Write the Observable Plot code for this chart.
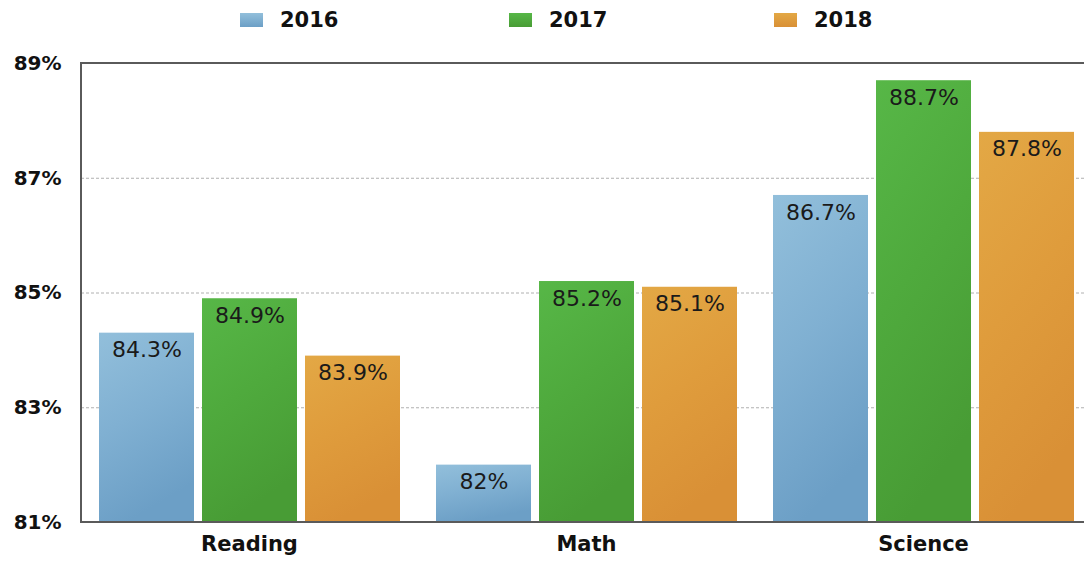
<!DOCTYPE html>
<html><head><meta charset="utf-8">
<script src="https://cdn.jsdelivr.net/npm/d3@7"></script>
<script src="https://cdn.jsdelivr.net/npm/@observablehq/plot@0.6"></script>
<style>
body{margin:0;background:#fff;width:1084px;overflow:hidden}
#legend{position:relative;height:40px;font-family:"DejaVu Sans",sans-serif;font-weight:bold;font-size:21px;color:#111}
.item{position:absolute;top:0;height:40px;display:flex;align-items:center}
.sw{width:23px;height:14px;margin-right:17px}
#chart{position:relative;width:1084px;height:521px;overflow:hidden}
#chart svg{position:absolute;left:0;top:0}
</style></head><body>
<svg width="0" height="0" style="position:absolute">
  <defs>
    <linearGradient id="g2016" x1="0" y1="0" x2="0.3" y2="1">
      <stop offset="0" stop-color="#92bfdb"/><stop offset="0.5" stop-color="#80b0d2"/><stop offset="1" stop-color="#6c9fc6"/>
    </linearGradient>
    <linearGradient id="g2017" x1="0" y1="0" x2="0.3" y2="1">
      <stop offset="0" stop-color="#57b747"/><stop offset="0.5" stop-color="#4faa3d"/><stop offset="1" stop-color="#489c35"/>
    </linearGradient>
    <linearGradient id="g2018" x1="0" y1="0" x2="0.3" y2="1">
      <stop offset="0" stop-color="#e3a845"/><stop offset="0.5" stop-color="#df9c3c"/><stop offset="1" stop-color="#d99036"/>
    </linearGradient>
  </defs>
</svg>
<div id="legend"></div>
<div id="chart"></div>
<script>
const subjects = ["Reading", "Math", "Science"];
const years = ["2016", "2017", "2018"];
const values2016 = [84.3, 82, 86.7];
const values2017 = [84.9, 85.2, 88.7];
const values2018 = [83.9, 85.1, 87.8];
const yDomain = [81, 89];
const yTicks = [81, 83, 85, 87, 89];
const gridValues = [83, 85, 87];
const barFills = ["url(#g2016)", "url(#g2017)", "url(#g2018)"];
const swatchColors = ["linear-gradient(#92bfdb,#6c9fc6)", "linear-gradient(#57b747,#489c35)", "linear-gradient(#e3a845,#d99036)"];
const legendLeft = [240, 509, 774];

const series = [values2016, values2017, values2018];
const data = [];
subjects.forEach((s, i) => years.forEach((y, j) => data.push({subject: s, year: y, value: series[j][i]})));

const legend = document.getElementById("legend");
years.forEach((y, j) => {
  const it = document.createElement("div");
  it.className = "item";
  it.style.left = legendLeft[j] + "px";
  it.innerHTML = `<span class="sw" style="background:${swatchColors[j]}"></span><span>${y}</span>`;
  legend.appendChild(it);
});

const common = {
  width: 1084, height: 521,
  marginTop: 23, marginBottom: 39, marginLeft: 81, marginRight: -7,
  style: {background: "transparent", overflow: "visible"},
  y: {domain: yDomain}
};

// background layer: dashed grid lines across the whole frame
const grid = Plot.plot({
  ...common,
  x: {axis: null},
  marks: [
    Plot.ruleY(gridValues, {stroke: "#b0b0b0", strokeWidth: 1, strokeDasharray: "3,2"}),
    Plot.axisY({ticks: [], label: null})
  ]
});

// bars layer
const bars = Plot.plot({
  ...common,
  fx: {domain: subjects, paddingInner: 0.104, paddingOuter: 0.05},
  x: {domain: years, paddingInner: 0.08, paddingOuter: 0, axis: null},
  color: {domain: years, range: barFills},
  marks: [
    Plot.barY(data, {fx: "subject", x: "year", y1: yDomain[0], y2: "value", fill: "year"}),
    Plot.text(data, {fx: "subject", x: "year", y: "value", text: d => d.value + "%", dy: 17,
      fontSize: 22, fontFamily: "DejaVu Sans", fill: "#1a1a1a"}),
    Plot.axisY({ticks: [], label: null}),
    Plot.axisFx({anchor: "bottom", tickSize: 0, tickPadding: 14, label: null,
      fontSize: 21, fontWeight: "bold", fontFamily: "DejaVu Sans", fill: "#111"})
  ]
});

// top layer: frame and y axis labels
const frame = Plot.plot({
  ...common,
  x: {axis: null},
  marks: [
    Plot.rect([{}], {y1: yDomain[0], y2: yDomain[1], fill: "none", stroke: "#5a5a5a", strokeWidth: 2}),
    Plot.axisY({ticks: yTicks, tickFormat: d => d + "%", tickSize: 0, tickPadding: 20, label: null,
      fontSize: 20, fontWeight: "bold", fontFamily: "DejaVu Sans", fill: "#111"})
  ]
});

const c = document.getElementById("chart");
c.appendChild(grid);
c.appendChild(bars);
c.appendChild(frame);
</script>
</body></html>
